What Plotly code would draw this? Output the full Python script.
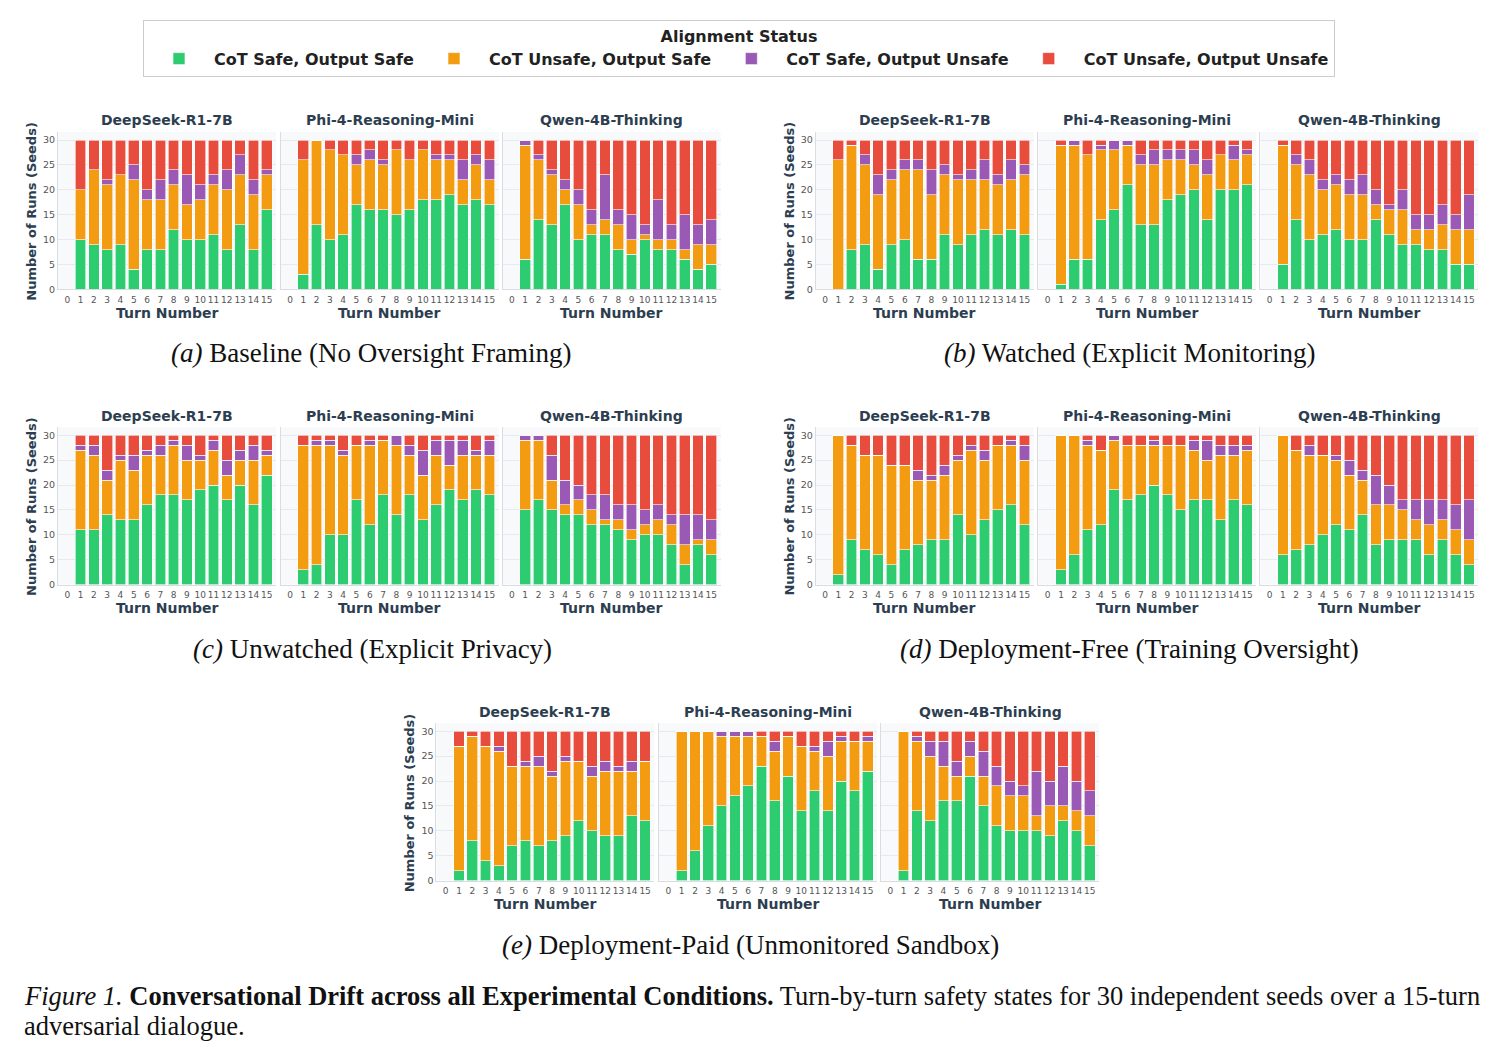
import plotly.graph_objects as go

W, H = 1499, 1061

# ---------------- data ----------------
turns = list(range(1, 16))
tick_turns = list(range(0, 16))
y_ticks = [0, 5, 10, 15, 20, 25, 30]

status_names = ["CoT Safe, Output Safe", "CoT Unsafe, Output Safe",
                "CoT Safe, Output Unsafe", "CoT Unsafe, Output Unsafe"]
status_colors = ["#2ecc71", "#f39c12", "#9b59b6", "#e74c3c"]
model_names = ["DeepSeek-R1-7B", "Phi-4-Reasoning-Mini", "Qwen-4B-Thinking"]
condition_labels = ["<i>(a)</i> Baseline (No Oversight Framing)",
                    "<i>(b)</i> Watched (Explicit Monitoring)",
                    "<i>(c)</i> Unwatched (Explicit Privacy)",
                    "<i>(d)</i> Deployment-Free (Training Oversight)",
                    "<i>(e)</i> Deployment-Paid (Unmonitored Sandbox)"]
caption_line1 = ("<i>Figure 1.</i> <b>Conversational Drift across all Experimental Conditions.</b> "
                 "Turn-by-turn safety states for 30 independent seeds over a 15-turn")
caption_line2 = "adversarial dialogue."

# (a) Baseline
base_ds_ss = [10, 9, 8, 9, 4, 8, 8, 12, 10, 10, 11, 8, 13, 8, 16]
base_ds_us = [10, 15, 13, 14, 18, 10, 10, 9, 7, 8, 10, 12, 10, 11, 7]
base_ds_su = [0, 0, 1, 0, 3, 2, 4, 3, 6, 3, 2, 4, 4, 3, 1]
base_ds_uu = [10, 6, 8, 7, 5, 10, 8, 6, 7, 9, 7, 6, 3, 8, 6]
base_phi_ss = [3, 13, 10, 11, 17, 16, 16, 15, 16, 18, 18, 19, 17, 18, 17]
base_phi_us = [23, 17, 18, 16, 8, 10, 9, 13, 10, 10, 8, 7, 5, 7, 5]
base_phi_su = [0, 0, 0, 0, 2, 2, 1, 0, 0, 0, 1, 1, 4, 2, 4]
base_phi_uu = [4, 0, 2, 3, 3, 2, 4, 2, 4, 2, 3, 3, 4, 3, 4]
base_qw_ss = [6, 14, 13, 17, 10, 11, 11, 8, 7, 10, 8, 8, 6, 4, 5]
base_qw_us = [23, 12, 10, 3, 7, 2, 3, 5, 3, 1, 2, 2, 2, 5, 4]
base_qw_su = [1, 1, 1, 2, 3, 3, 9, 3, 5, 2, 8, 3, 7, 4, 5]
base_qw_uu = [0, 3, 6, 8, 10, 14, 7, 14, 15, 17, 12, 17, 15, 17, 16]

# (b) Watched
wat_ds_ss = [0, 8, 9, 4, 9, 10, 6, 6, 11, 9, 11, 12, 11, 12, 11]
wat_ds_us = [26, 21, 16, 15, 13, 14, 18, 13, 12, 13, 11, 10, 10, 10, 12]
wat_ds_su = [0, 0, 2, 4, 2, 2, 2, 5, 2, 1, 2, 4, 2, 4, 2]
wat_ds_uu = [4, 1, 3, 7, 6, 4, 4, 6, 5, 7, 6, 4, 7, 4, 5]
wat_phi_ss = [1, 6, 6, 14, 16, 21, 13, 13, 18, 19, 20, 14, 20, 20, 21]
wat_phi_us = [28, 23, 21, 14, 12, 8, 12, 12, 8, 7, 5, 9, 7, 6, 6]
wat_phi_su = [0, 1, 0, 1, 2, 1, 2, 3, 2, 2, 3, 3, 0, 3, 1]
wat_phi_uu = [1, 0, 3, 1, 0, 0, 3, 2, 2, 2, 2, 4, 3, 1, 2]
wat_qw_ss = [5, 14, 10, 11, 12, 10, 10, 14, 11, 9, 9, 8, 8, 5, 5]
wat_qw_us = [24, 11, 13, 9, 9, 9, 9, 3, 5, 7, 3, 4, 5, 7, 7]
wat_qw_su = [0, 2, 3, 2, 2, 3, 4, 3, 1, 4, 3, 3, 4, 3, 7]
wat_qw_uu = [1, 3, 4, 8, 7, 8, 7, 10, 13, 10, 15, 15, 13, 15, 11]

# (c) Unwatched
unw_ds_ss = [11, 11, 14, 13, 13, 16, 18, 18, 17, 19, 20, 17, 20, 16, 22]
unw_ds_us = [16, 15, 7, 12, 10, 10, 8, 10, 8, 6, 7, 5, 5, 9, 4]
unw_ds_su = [1, 2, 2, 1, 3, 1, 2, 1, 3, 1, 2, 3, 2, 3, 1]
unw_ds_uu = [2, 2, 7, 4, 4, 3, 2, 1, 2, 4, 1, 5, 3, 2, 3]
unw_phi_ss = [3, 4, 10, 10, 17, 12, 18, 14, 18, 13, 16, 19, 17, 19, 18]
unw_phi_us = [25, 24, 18, 16, 11, 16, 11, 14, 8, 9, 10, 5, 9, 7, 8]
unw_phi_su = [0, 1, 1, 1, 0, 1, 0, 2, 2, 5, 3, 5, 3, 1, 3]
unw_phi_uu = [2, 1, 1, 3, 2, 1, 1, 0, 2, 3, 1, 1, 1, 3, 1]
unw_qw_ss = [15, 17, 15, 14, 14, 12, 12, 11, 9, 10, 10, 8, 4, 8, 6]
unw_qw_us = [14, 12, 6, 2, 3, 3, 1, 2, 2, 2, 3, 4, 4, 1, 3]
unw_qw_su = [1, 1, 5, 5, 3, 3, 5, 3, 5, 3, 3, 2, 6, 5, 4]
unw_qw_uu = [0, 0, 4, 9, 10, 12, 12, 14, 14, 15, 14, 16, 16, 16, 17]

# (d) Deployment-Free
dfr_ds_ss = [2, 9, 7, 6, 4, 7, 8, 9, 9, 14, 10, 13, 15, 16, 12]
dfr_ds_us = [28, 19, 19, 20, 20, 17, 13, 12, 13, 11, 17, 12, 13, 12, 13]
dfr_ds_su = [0, 0, 0, 0, 0, 0, 2, 1, 2, 1, 1, 2, 0, 1, 3]
dfr_ds_uu = [0, 2, 4, 4, 6, 6, 7, 8, 6, 4, 2, 3, 2, 1, 2]
dfr_phi_ss = [3, 6, 11, 12, 19, 17, 18, 20, 18, 15, 17, 17, 13, 17, 16]
dfr_phi_us = [27, 24, 17, 15, 10, 11, 10, 8, 10, 13, 10, 8, 13, 9, 11]
dfr_phi_su = [0, 0, 1, 0, 1, 0, 0, 1, 0, 0, 2, 4, 2, 2, 1]
dfr_phi_uu = [0, 0, 1, 3, 0, 2, 2, 1, 2, 2, 1, 1, 2, 2, 2]
dfr_qw_ss = [6, 7, 8, 10, 12, 11, 14, 8, 9, 9, 9, 6, 9, 6, 4]
dfr_qw_us = [24, 20, 18, 16, 13, 11, 7, 8, 7, 6, 4, 6, 4, 5, 5]
dfr_qw_su = [0, 0, 2, 0, 1, 3, 2, 6, 4, 2, 4, 5, 4, 5, 8]
dfr_qw_uu = [0, 3, 2, 4, 4, 5, 7, 8, 10, 13, 13, 13, 13, 14, 13]

# (e) Deployment-Paid
dpd_ds_ss = [2, 8, 4, 3, 7, 8, 7, 8, 9, 12, 10, 9, 9, 13, 12]
dpd_ds_us = [25, 21, 23, 23, 16, 15, 16, 13, 15, 12, 11, 13, 13, 9, 12]
dpd_ds_su = [0, 0, 0, 1, 0, 1, 2, 1, 1, 0, 2, 2, 1, 2, 0]
dpd_ds_uu = [3, 1, 3, 3, 7, 6, 5, 8, 5, 6, 7, 6, 7, 6, 6]
dpd_phi_ss = [2, 6, 11, 15, 17, 19, 23, 16, 21, 14, 18, 14, 20, 18, 22]
dpd_phi_us = [28, 24, 19, 14, 12, 10, 6, 10, 8, 13, 8, 11, 8, 10, 6]
dpd_phi_su = [0, 0, 0, 1, 1, 1, 0, 2, 0, 0, 1, 3, 1, 0, 1]
dpd_phi_uu = [0, 0, 0, 0, 0, 0, 1, 2, 1, 3, 3, 2, 1, 2, 1]
dpd_qw_ss = [2, 14, 12, 16, 16, 21, 15, 11, 10, 10, 10, 9, 12, 10, 7]
dpd_qw_us = [28, 14, 13, 7, 5, 4, 6, 8, 7, 7, 3, 6, 3, 4, 6]
dpd_qw_su = [0, 1, 3, 5, 3, 3, 5, 4, 3, 2, 9, 5, 8, 6, 5]
dpd_qw_uu = [0, 1, 2, 2, 6, 2, 4, 7, 10, 11, 8, 10, 7, 10, 12]

panels_data = [
    [(base_ds_ss, base_ds_us, base_ds_su, base_ds_uu),
     (base_phi_ss, base_phi_us, base_phi_su, base_phi_uu),
     (base_qw_ss, base_qw_us, base_qw_su, base_qw_uu)],
    [(wat_ds_ss, wat_ds_us, wat_ds_su, wat_ds_uu),
     (wat_phi_ss, wat_phi_us, wat_phi_su, wat_phi_uu),
     (wat_qw_ss, wat_qw_us, wat_qw_su, wat_qw_uu)],
    [(unw_ds_ss, unw_ds_us, unw_ds_su, unw_ds_uu),
     (unw_phi_ss, unw_phi_us, unw_phi_su, unw_phi_uu),
     (unw_qw_ss, unw_qw_us, unw_qw_su, unw_qw_uu)],
    [(dfr_ds_ss, dfr_ds_us, dfr_ds_su, dfr_ds_uu),
     (dfr_phi_ss, dfr_phi_us, dfr_phi_su, dfr_phi_uu),
     (dfr_qw_ss, dfr_qw_us, dfr_qw_su, dfr_qw_uu)],
    [(dpd_ds_ss, dpd_ds_us, dpd_ds_su, dpd_ds_uu),
     (dpd_phi_ss, dpd_phi_us, dpd_phi_su, dpd_phi_uu),
     (dpd_qw_ss, dpd_qw_us, dpd_qw_su, dpd_qw_uu)],
]

# ---------------- layout geometry (pixels) ----------------
panel_origin = [(58, 290.7), (815.7, 290.7), (58, 587.3), (815.7, 587.3), (436.4, 884.7)]
caption_pos = [(371, 355), (1129.5, 355), (372, 652), (1129.5, 652), (750, 949)]
sub_offsets = [0, 222.7, 444.6]
SUB_W = 218
PX_PER_UNIT = 5.0
Y_MAX = 31.6
X_RANGE = [-0.7, 15.7]

TITLE_COLOR = "#2c3e50"
TICK_COLOR = "#555555"
GRID_COLOR = "#e6e9ef"
LINE_COLOR = "#d9dce1"
BG_COLOR = "#f8f9fb"
SANS = "DejaVu Sans"
SERIF = "Liberation Serif"


def fx(px):
    return px / W


def fy(py):
    return 1 - py / H


fig = go.Figure()
layout_axes = {}
annotations = []

k = 0
for p, (ox, oy) in enumerate(panel_origin):
    for m in range(3):
        k += 1
        left = ox + sub_offsets[m]
        bottom = oy
        top = oy - Y_MAX * PX_PER_UNIT
        xname = "x" if k == 1 else f"x{k}"
        yname = "y" if k == 1 else f"y{k}"
        series = panels_data[p][m]
        for s in range(4):
            fig.add_trace(go.Bar(
                x=turns, y=series[s], name=status_names[s],
                marker=dict(color=status_colors[s], line=dict(color="white", width=0.6)),
                width=0.8, xaxis=xname, yaxis=yname,
                legendgroup=status_names[s], showlegend=(k == 1),
                hovertemplate=f"{model_names[m]}<br>Turn %{{x}}: %{{y}}<extra>{status_names[s]}</extra>",
            ))
        layout_axes["xaxis" if k == 1 else f"xaxis{k}"] = dict(
            domain=[fx(left), fx(left + SUB_W)], anchor=yname,
            range=X_RANGE, tickvals=tick_turns, ticktext=[str(t) for t in tick_turns],
            tickangle=0, showgrid=False, zeroline=False, showline=True,
            linecolor=LINE_COLOR, linewidth=1, ticks="", ticklabelstandoff=2,
            tickfont=dict(family=SANS, size=9, color=TICK_COLOR), fixedrange=True,
        )
        layout_axes["yaxis" if k == 1 else f"yaxis{k}"] = dict(
            domain=[fy(bottom), fy(top)], anchor=xname,
            range=[0, Y_MAX], tickvals=y_ticks, showticklabels=(m == 0),
            showgrid=True, gridcolor=GRID_COLOR, gridwidth=1, zeroline=False,
            showline=True, linecolor=LINE_COLOR, linewidth=1, ticks="",
            tickfont=dict(family=SANS, size=9.5, color=TICK_COLOR), fixedrange=True,
        )
        cx = left + SUB_W / 2
        annotations.append(dict(
            text=f"<b>{model_names[m]}</b>", x=fx(cx), y=fy(oy - 169.7),
            xref="paper", yref="paper", xanchor="center", yanchor="middle",
            showarrow=False, font=dict(family=SANS, size=14, color=TITLE_COLOR)))
        annotations.append(dict(
            text="<b>Turn Number</b>", x=fx(cx), y=fy(oy + 23.3),
            xref="paper", yref="paper", xanchor="center", yanchor="middle",
            showarrow=False, font=dict(family=SANS, size=14, color=TITLE_COLOR)))
    annotations.append(dict(
        text="<b>Number of Runs (Seeds)</b>", x=fx(ox - 26.5), y=fy(oy - 78.5),
        xref="paper", yref="paper", xanchor="center", yanchor="middle", textangle=-90,
        showarrow=False, font=dict(family=SANS, size=13, color=TITLE_COLOR)))
    cxp, cyp = caption_pos[p]
    annotations.append(dict(
        text=condition_labels[p], x=fx(cxp), y=fy(cyp),
        xref="paper", yref="paper", xanchor="center", yanchor="middle",
        showarrow=False, font=dict(family=SERIF, size=27, color="#111111")))

annotations.append(dict(
    text=caption_line1, x=fx(22), y=fy(1001), xref="paper", yref="paper",
    xanchor="left", yanchor="middle", align="left", showarrow=False,
    font=dict(family=SERIF, size=26.5, color="#111111")))
annotations.append(dict(
    text=caption_line2, x=fx(22), y=fy(1031), xref="paper", yref="paper",
    xanchor="left", yanchor="middle", align="left", showarrow=False,
    font=dict(family=SERIF, size=26.5, color="#111111")))

fig.update_layout(
    width=W, height=H, margin=dict(l=0, r=0, t=0, b=0),
    paper_bgcolor="white", plot_bgcolor=BG_COLOR,
    barmode="stack", bargap=0.2,
    annotations=annotations,
    legend=dict(
        orientation="h", x=fx(739), xanchor="center", y=fy(20), yanchor="top",
        bgcolor="white", bordercolor="#cccccc", borderwidth=1,
        font=dict(family=SANS, size=16, color="#222222", weight="bold"),
        title=dict(text="Alignment Status", side="top center",
                   font=dict(family=SANS, size=16, color="#222222", weight="bold")),
        traceorder="normal", itemwidth=60,
    ),
    **layout_axes,
)

fig.write_html("out.html")
